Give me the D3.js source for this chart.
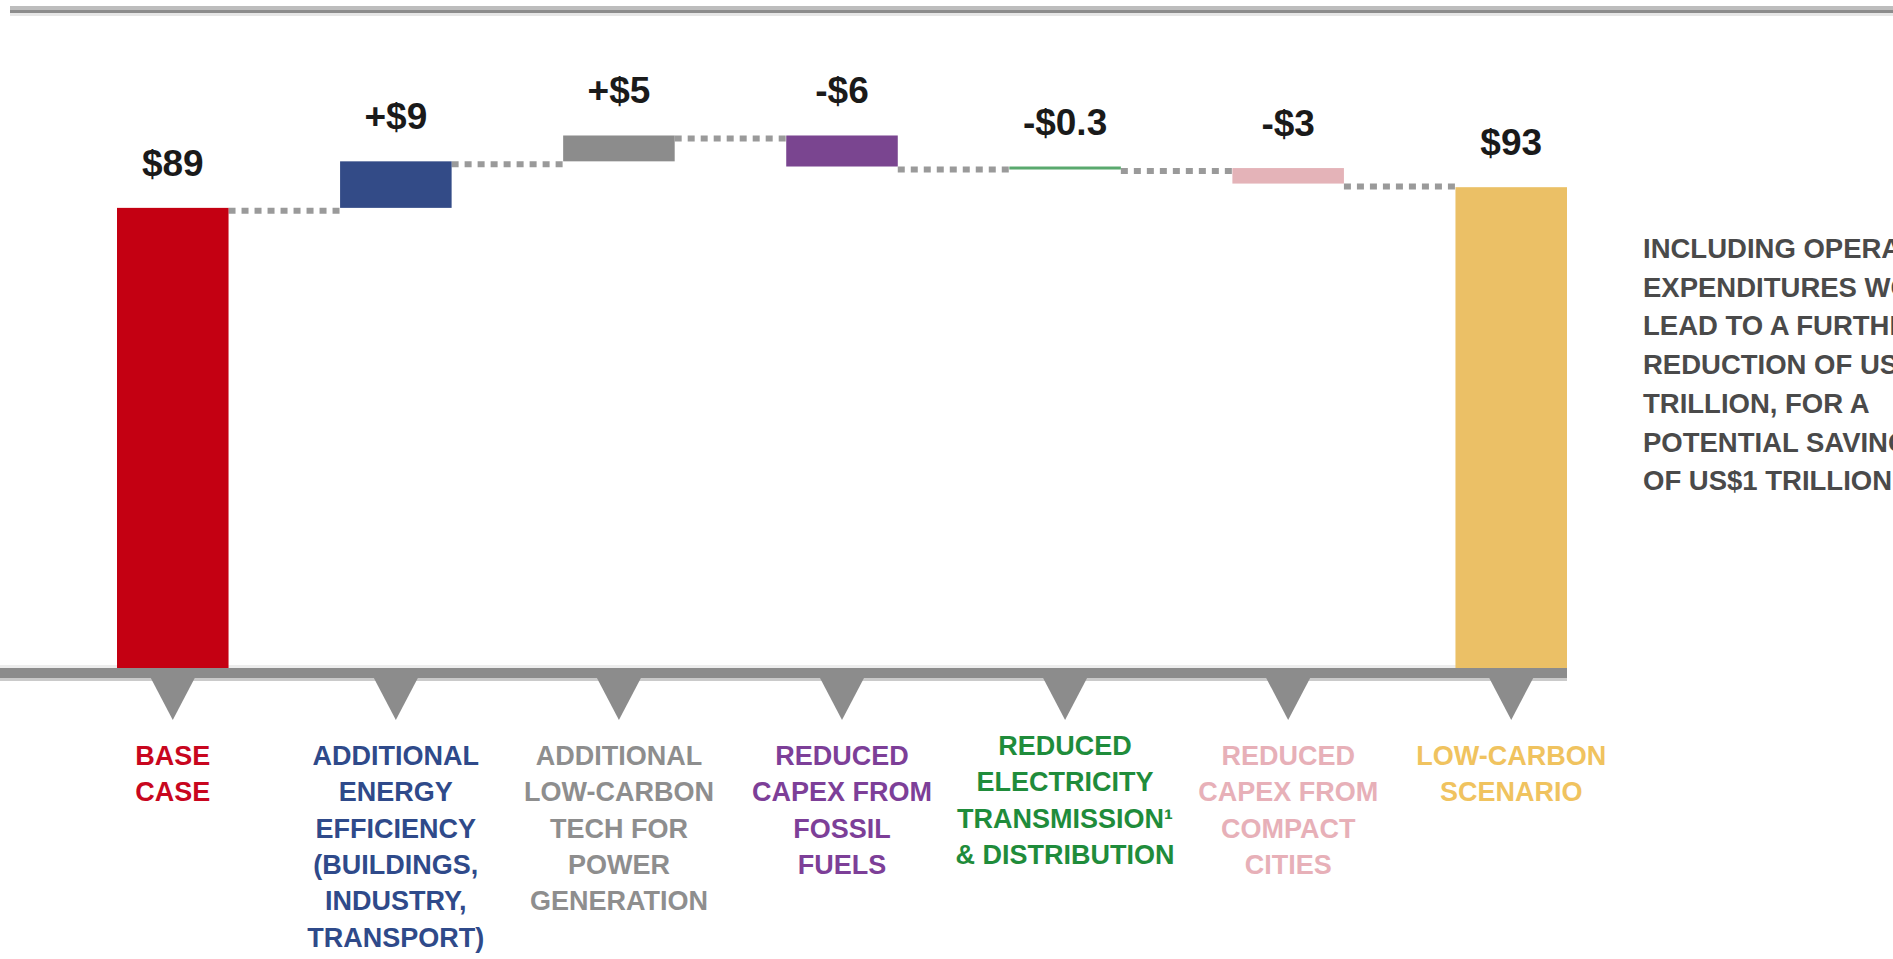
<!DOCTYPE html>
<html>
<head>
<meta charset="utf-8">
<script src="https://cdn.jsdelivr.net/npm/d3@7"></script>
<style>
  html, body { margin: 0; padding: 0; background: #fff; overflow: hidden; }
  svg { display: block; }
  text { font-family: "Liberation Sans", Arial, sans-serif; font-weight: bold; }
</style>
</head>
<body>
<svg id="chart" width="1893" height="959"></svg>
<script>
//data
var categories = ['base', 'efficiency', 'lowcarbon', 'fossil', 'grid', 'cities', 'scenario'];
var values = [89, 9, 5, -6, -0.3, -3, 93];
var kinds = ['total', 'delta', 'delta', 'delta', 'delta', 'delta', 'total'];
var valueLabels = ['$89', '+$9', '+$5', '-$6', '-$0.3', '-$3', '$93'];
var categoryLines = [
  ['BASE', 'CASE'],
  ['ADDITIONAL', 'ENERGY', 'EFFICIENCY', '(BUILDINGS,', 'INDUSTRY,', 'TRANSPORT)'],
  ['ADDITIONAL', 'LOW-CARBON', 'TECH FOR', 'POWER', 'GENERATION'],
  ['REDUCED', 'CAPEX FROM', 'FOSSIL', 'FUELS'],
  ['REDUCED', 'ELECTRICITY', 'TRANSMISSION¹', '& DISTRIBUTION'],
  ['REDUCED', 'CAPEX FROM', 'COMPACT', 'CITIES'],
  ['LOW-CARBON', 'SCENARIO']
];
var barColors = ['#c40012', '#334b87', '#8c8c8c', '#7a4590', '#5aa96e', '#e4b3b8', '#ebc066'];
var textColors = ['#c8061e', '#2f4a8a', '#8e8e8e', '#7d3f98', '#1f8c3b', '#e7b0b8', '#f0c35f'];
var noteLines = [
  'INCLUDING OPERATING',
  'EXPENDITURES WOULD',
  'LEAD TO A FURTHER',
  'REDUCTION OF US$5',
  'TRILLION, FOR A',
  'POTENTIAL SAVING',
  'OF US$1 TRILLION.'
];

var svg = d3.select('#chart');
var baseY = 668;

//scales
var x = d3.scaleBand()
  .domain(categories)
  .range([117, 1567])
  .paddingInner(0.5)
  .paddingOuter(0);

var y = d3.scaleLinear()
  .domain([0, 100])
  .range([baseY, 151]);

//waterfall steps
var running = 0;
var steps = categories.map(function(c, i) {
  var start, end;
  if (kinds[i] == 'total') {
    start = 0;
    end = values[i];
    running = values[i];
  }
  else {
    start = running;
    end = running + values[i];
    running = end;
  }
  return { cat: c, start: start, end: end, level: running, i: i };
});

//top rule
svg.append('rect').attr('x', 10).attr('y', 6).attr('width', 1883).attr('height', 4).attr('fill', '#bdbdbd');
svg.append('rect').attr('x', 10).attr('y', 10).attr('width', 1883).attr('height', 3).attr('fill', '#8c8c8c');
svg.append('rect').attr('x', 10).attr('y', 13).attr('width', 1883).attr('height', 3).attr('fill', '#e6e6e6');

//connectors
var connectors = svg.append('g').attr('class', 'connectors');
steps.slice(0, -1).forEach(function(s, i) {
  var next = steps[i + 1];
  connectors.append('line')
    .attr('x1', x(s.cat) + x.bandwidth())
    .attr('x2', x(next.cat))
    .attr('y1', y(s.level) + 3)
    .attr('y2', y(s.level) + 3)
    .attr('stroke', '#9a9a9a')
    .attr('stroke-width', 6)
    .attr('stroke-dasharray', '7,6');
});

//bars
svg.append('g').attr('class', 'bars')
  .selectAll('rect')
  .data(steps)
  .enter().append('rect')
    .attr('x', function(d) { return x(d.cat); })
    .attr('width', x.bandwidth())
    .attr('y', function(d) { return y(Math.max(d.start, d.end)); })
    .attr('height', function(d) { return Math.max(3, Math.abs(y(d.start) - y(d.end))); })
    .attr('fill', function(d) { return barColors[d.i]; });

//value labels
svg.append('g').attr('class', 'value-labels')
  .selectAll('text')
  .data(steps)
  .enter().append('text')
    .attr('x', function(d) { return x(d.cat) + x.bandwidth() / 2; })
    .attr('y', function(d) { return y(Math.max(d.start, d.end)) - 32; })
    .attr('text-anchor', 'middle')
    .attr('font-size', 37)
    .attr('fill', '#1a1a1a')
    .text(function(d) { return valueLabels[d.i]; });

//axis band
svg.append('rect').attr('x', 0).attr('y', 665).attr('width', 1567).attr('height', 3).attr('fill', '#ededed').lower();
svg.append('rect').attr('x', 0).attr('y', baseY).attr('width', 1567).attr('height', 10).attr('fill', '#8c8c8c');
svg.append('rect').attr('x', 0).attr('y', baseY + 10).attr('width', 1567).attr('height', 3).attr('fill', '#cacaca');

//pointers
svg.append('g').attr('class', 'pointers')
  .selectAll('path')
  .data(categories)
  .enter().append('path')
    .attr('d', function(c) {
      var cx = x(c) + x.bandwidth() / 2;
      return 'M' + (cx - 22) + ',' + (baseY + 10) + 'L' + (cx + 22) + ',' + (baseY + 10) + 'L' + cx + ',' + (baseY + 52) + 'Z';
    })
    .attr('fill', '#8c8c8c');

//category labels
var catLabels = svg.append('g').attr('class', 'category-labels')
  .selectAll('text')
  .data(categories)
  .enter().append('text')
    .attr('text-anchor', 'middle')
    .attr('font-size', 27)
    .attr('fill', function(c, i) { return textColors[i]; });

catLabels.each(function(c, i) {
  var t = d3.select(this);
  var cx = x(c) + x.bandwidth() / 2;
  //the four-line green label sits a little higher
  var top = categoryLines[i].length == 4 && i == 4 ? 755 : 765;
  categoryLines[i].forEach(function(line, j) {
    t.append('tspan')
      .attr('x', cx)
      .attr('y', top + j * 36.3)
      .text(line);
  });
});

//note
var note = svg.append('text')
  .attr('font-size', 27.5)
  .attr('fill', '#4a4a4a');
noteLines.forEach(function(line, j) {
  note.append('tspan')
    .attr('x', 1643)
    .attr('y', 258 + j * 38.7)
    .text(line);
});
</script>
</body>
</html>
